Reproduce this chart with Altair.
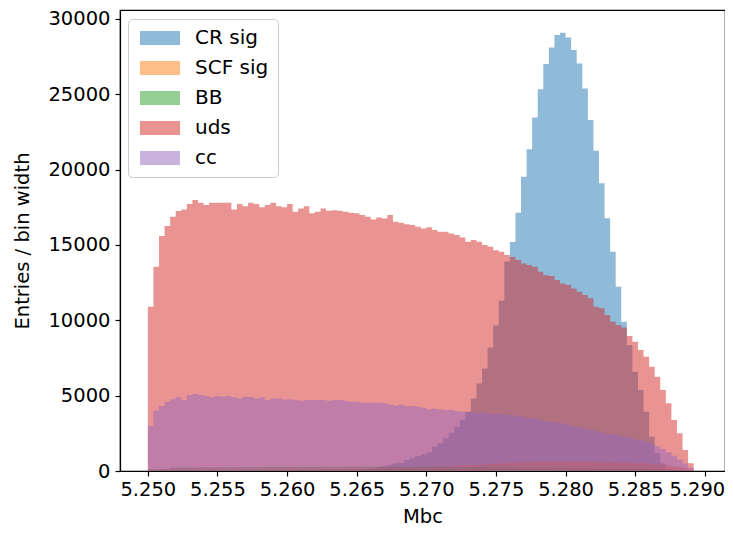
import altair as alt
import pandas as pd

# histogram binning: 100 bins of width 0.0004 starting at 5.250
bin_start = 5.250
bin_width = 0.0004

series_names = ["CR sig", "SCF sig", "BB", "uds", "cc"]
series_colors = ["#1f77b4", "#ff7f0e", "#2ca02c", "#d62728", "#9467bd"]

x_ticks = [5.250, 5.255, 5.260, 5.265, 5.270, 5.275, 5.280, 5.285, 5.290]
y_ticks = [0, 5000, 10000, 15000, 20000, 25000, 30000]

cr_sig = [
    0, 0, 0, 0, 0, 0, 0, 0, 0, 0,
    0, 0, 0, 0, 0, 0, 0, 0, 0, 0,
    0, 0, 0, 0, 0, 0, 0, 0, 0, 0,
    0, 0, 0, 0, 0, 0, 0, 0, 60, 120,
    190, 260, 330, 400, 510, 555, 730, 840, 995, 1130,
    1240, 1620, 1840, 2170, 2540, 2940, 3380, 3930, 4820, 5810,
    6800, 8200, 9650, 11300, 13900, 15200, 17140, 19530, 21350, 23470,
    25330, 27010, 28110, 28930, 29090, 28780, 27940, 27050, 25390, 23290,
    21260, 19090, 16770, 14550, 12230, 9910, 8360, 6590, 5375, 3940,
    2280, 1200, 500, 150, 50, 0, 0, 0, 0, 0,
]

scf_sig = [
    20, 25, 28, 30, 33, 35, 37, 40, 42, 45,
    47, 50, 52, 55, 58, 60, 63, 66, 69, 72,
    75, 78, 82, 86, 90, 94, 98, 100, 100, 100,
    100, 105, 110, 115, 120, 125, 130, 135, 140, 145,
    150, 160, 170, 180, 192, 205, 218, 232, 247, 262,
    278, 295, 312, 330, 348, 366, 384, 402, 420, 437,
    454, 470, 486, 510, 535, 560, 580, 598, 610, 620,
    624, 628, 631, 633, 634, 634, 633, 631, 628, 624,
    619, 612, 604, 594, 582, 568, 552, 534, 513, 490,
    464, 435, 402, 364, 320, 268, 205, 90, 0, 0,
]

bb = [
    110, 120, 125, 130, 220, 235, 228, 240, 232, 238,
    245, 236, 240, 248, 242, 250, 255, 262, 258, 265,
    260, 268, 263, 270, 266, 272, 268, 275, 270, 276,
    272, 278, 274, 280, 276, 282, 278, 284, 280, 285,
    282, 286, 283, 287, 284, 288, 285, 286, 283, 284,
    281, 280, 278, 276, 274, 272, 270, 267, 264, 261,
    258, 255, 252, 249, 246, 243, 240, 237, 234, 231,
    228, 225, 222, 218, 214, 210, 206, 202, 198, 194,
    190, 185, 180, 175, 169, 163, 156, 149, 141, 132,
    122, 111, 99, 86, 72, 57, 40, 20, 0, 0,
]

uds = [
    10900, 13560, 15590, 16260, 16880, 17250, 17360, 17720, 17980, 17800,
    17650, 17800, 17800, 17800, 17800, 17360, 17720, 17580, 17800, 17720,
    17500, 17650, 17800, 17580, 17500, 17720, 17200, 17420, 17580, 17100,
    17200, 17420, 17270, 17300, 17270, 17200, 17140, 17100, 16990, 16875,
    16700, 16830, 16765, 16990, 16545, 16480, 16370, 16320, 16213, 16100,
    16170, 15990, 15880, 15880, 15770, 15660, 15500, 15220, 15330, 15220,
    15000, 14885, 14650, 14550, 14330, 14200, 14000, 13780, 13670, 13560,
    13230, 13000, 12940, 12670, 12450, 12340, 12120, 11900, 11680, 11460,
    10900, 10795, 10350, 9910, 9690, 9530, 8960, 8580, 8030, 7590,
    6920, 6260, 5370, 4490, 3380, 2500, 1390, 510, 0, 0,
]

cc = [
    2990, 4000, 4310, 4600, 4755, 4890, 4710, 5040, 5110, 5040,
    4980, 4890, 4980, 4930, 4980, 4890, 4820, 4930, 4890, 4820,
    4890, 4710, 4820, 4820, 4750, 4750, 4710, 4670, 4710, 4710,
    4710, 4710, 4670, 4710, 4710, 4670, 4600, 4600, 4530, 4530,
    4530, 4530, 4490, 4420, 4350, 4420, 4310, 4310, 4270, 4200,
    4090, 4130, 4090, 4045, 4045, 3980, 3930, 3910, 3870, 3870,
    3870, 3800, 3760, 3760, 3720, 3700, 3600, 3600, 3490, 3490,
    3380, 3270, 3270, 3200, 3160, 3050, 2940, 2900, 2800, 2720,
    2640, 2560, 2480, 2420, 2350, 2280, 2200, 2120, 2040, 1940,
    1800, 1650, 1460, 1250, 1020, 760, 500, 220, 0, 0,
]

series_values = [cr_sig, scf_sig, bb, uds, cc]

rows = []
for name, vals in zip(series_names, series_values):
    n = len(vals)
    for i, v in enumerate(vals):
        rows.append({"series": name, "x": bin_start + i * bin_width, "v": v})
    # closing edge of the last bin
    rows.append({"series": name, "x": bin_start + n * bin_width, "v": 0})
df = pd.DataFrame(rows)

FONT = "DejaVu Sans"
TICK_FS = 19.5

x_enc = alt.X(
    "x:Q",
    scale=alt.Scale(domain=[5.248, 5.29145], nice=False, zero=False),
    axis=alt.Axis(
        values=x_ticks, format=".3f", title="Mbc", grid=False,
        tickSize=5, labelPadding=4, titleY=45, titleBaseline="middle",
        labelOffset={"expr": "datum.value > 5.2895 ? -8 : 0"},
    ),
)
y_enc = alt.Y(
    "v:Q",
    scale=alt.Scale(domain=[0, 30597], nice=False),
    axis=alt.Axis(
        values=y_ticks, format="d", title="Entries / bin width", grid=False,
        tickSize=5, labelPadding=5, titleX=-98, titleBaseline="middle",
    ),
)
legend = alt.Legend(
    orient="none", legendX=8, legendY=9, title=None,
    symbolType="M-2.86,-1H2.86V1H-2.86Z", symbolSize=196,
    symbolOpacity=0.5, symbolStrokeWidth=0, symbolOffset=13,
    labelFontSize=20, labelFont=FONT, labelColor="black", labelOffset=25,
    padding=9, rowPadding=10, strokeColor="#cccccc", fillColor="white",
    cornerRadius=4,
)
color_enc = alt.Color(
    "series:N",
    scale=alt.Scale(domain=series_names, range=series_colors),
    sort=series_names,
    legend=legend,
)

layers = []
for name in series_names:
    layers.append(
        alt.Chart(df)
        .transform_filter(alt.datum.series == name)
        .mark_area(interpolate="step-after", opacity=0.5)
        .encode(x=x_enc, y=y_enc, color=color_enc)
    )

chart = (
    alt.layer(*layers)
    .properties(
        width=605, height=461,
        autosize=alt.AutoSizeParams(type="none"),
        padding={"left": 112, "top": 2, "right": 0, "bottom": 56},
    )
    .configure_view(stroke="black", strokeWidth=1.2)
    .configure_axis(
        labelFont=FONT, labelFontSize=TICK_FS, labelColor="black",
        titleFont=FONT, titleFontSize=TICK_FS, titleFontWeight="normal", titleColor="black",
        domainColor="black", tickColor="black", domainWidth=1.2, tickWidth=1.2,
    )
)

chart.save("out.html", embed_options={"renderer": "svg", "actions": False})
